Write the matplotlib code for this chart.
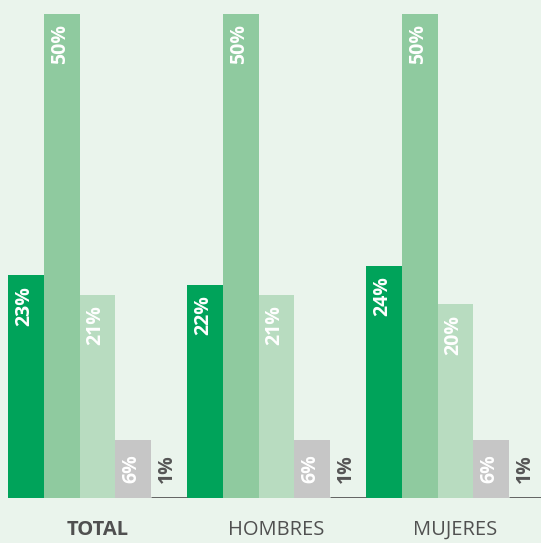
import numpy as np
import matplotlib.pyplot as plt

groups = ["TOTAL", "HOMBRES", "MUJERES"]
series_values = [
    [23, 50, 21, 6, 1],   # TOTAL
    [22, 50, 21, 6, 1],   # HOMBRES
    [24, 50, 20, 6, 1],   # MUJERES
]
bar_colors = ["#00A35A", "#8FCA9F", "#B8DCC0", "#C6C6C6", "#555555"]
label_colors = ["white", "white", "white", "white", "#555555"]

bg = "#EAF4EC"
plt.rcParams['font.family'] = ['Open Sans', 'DejaVu Sans']

fig = plt.figure(figsize=(5.41, 5.43), dpi=100, facecolor=bg)
ax = fig.add_axes([0, 45 / 543, 1, 484 / 543])
ax.set_facecolor(bg)

n = len(series_values[0])
for g, vals in enumerate(series_values):
    for i, v in enumerate(vals):
        x = g * n + i
        if i == n - 1:
            # the smallest category is drawn as a baseline stroke
            ax.hlines(0, x - 0.5, x + 0.5, color=bar_colors[i], lw=2)
        else:
            ax.bar(x, v, width=1.0, color=bar_colors[i], linewidth=0)
        txt = f"{v}%"
        if v >= 10:
            ax.annotate(txt, (x, v), xytext=(-1.5, -7.5), textcoords="offset points",
                        rotation=90, ha="center", va="top", color=label_colors[i],
                        fontsize=14, fontweight="bold", annotation_clip=False)
        else:
            ax.text(x - 0.05, 3, txt, rotation=90, ha="center", va="center",
                    color=label_colors[i], fontsize=14, fontweight="bold")

    ax.text(g * n + 2, -3.3, groups[g], ha="center", va="center",
            color="#505050", fontsize=14.5,
            fontweight="bold" if g == 0 else "normal", clip_on=False)

left = -0.5 - 8 / 35.8
ax.set_xlim(left, left + 541 / 35.8)
ax.set_ylim(0, 50)
ax.axis("off")

fig.savefig("out.png", dpi=100, facecolor=bg)
